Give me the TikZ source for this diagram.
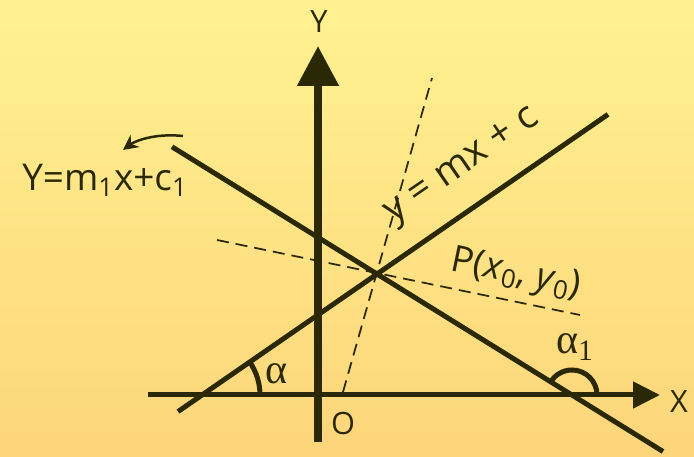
\documentclass[tikz,border=0pt]{standalone}
\usepackage{fontspec}
\setmainfont{Open Sans}
\newfontfamily\greekfont{Liberation Serif}
\usetikzlibrary{arrows.meta}
\definecolor{colorbgtop}{RGB}{255,242,145}
\definecolor{colorbgbot}{RGB}{253,213,122}
\definecolor{colorink}{RGB}{43,41,5}

\begin{document}
\begin{tikzpicture}[x=0.02cm,y=0.02cm]
% Background
\shade[top color=colorbgtop,bottom color=colorbgbot] (0,0) rectangle (694,457);
\useasboundingbox (0,0) rectangle (694,457);

% Points
\coordinate (P) at (377,183);
\coordinate (Xs) at (148,62);
\coordinate (Xe) at (660,62);
\coordinate (Ys) at (318,15);
\coordinate (Ye) at (318,411);
\coordinate (Ls) at (178,45.4);
\coordinate (Le) at (608,342.6);
\coordinate (Ms) at (172,310.2);
\coordinate (Me) at (663,5.5);
\coordinate (Ds) at (343,65);
\coordinate (De) at (432,379);
\coordinate (Es) at (217,217);
\coordinate (Ee) at (580,142);

% Axes
\draw[colorink,line width=0.1cm,-{Triangle[length=0.54cm,width=0.52cm]}] (Xs) -- (Xe);
\draw[colorink,line width=0.16cm,-{Triangle[length=0.8cm,width=0.8cm]}] (Ys) -- (Ye);

% Lines through P
\draw[colorink,line width=0.1cm] (Ls) -- (Le);
\draw[colorink,line width=0.1cm] (Ms) -- (Me);
\draw[colorink,line width=0.035cm,dash pattern=on 0.24cm off 0.14cm] (Ds) -- (De);
\draw[colorink,line width=0.035cm,dash pattern=on 0.24cm off 0.14cm] (Es) -- (Ee);

% Angles
\draw[colorink,line width=0.1cm] (260,62) arc[start angle=0,end angle=34.6,radius=58];
\draw[colorink,line width=0.1cm] (597,62) arc[start angle=0,end angle=148.2,radius=25];
\node[colorink,inner sep=0,font=\greekfont\fontsize{24}{28}\selectfont] (alpha) at (277,83) {α};
\node[colorink,inner sep=0,font=\greekfont\fontsize{24}{28}\selectfont] (alpha1) at (575,110) {α\textsubscript{1}};

% Axis labels
\node[colorink,inner sep=0,font=\fontsize{17.5}{21}\selectfont] (Ylab) at (319,435) {Y};
\node[colorink,inner sep=0,font=\fontsize{17.5}{21}\selectfont] (Xlab) at (679,55) {X};
\node[colorink,inner sep=0,font=\fontsize{17.5}{21}\selectfont] (Olab) at (343,33) {O};

% Equations
\node[colorink,inner sep=0,font=\fontsize{21}{25}\selectfont] (eqM) at (105,277) {Y=m\textsubscript{1}x+c\textsubscript{1}};
\node[colorink,inner sep=0,font=\fontsize{22}{26}\selectfont,rotate=34.6] (eqL) at (463,290) {y = mx + c};
\node[colorink,inner sep=0,font=\fontsize{21}{25}\selectfont,rotate=-11.7] (Plab) at (516,182) {P(\textit{x}\textsubscript{0}, \textit{y}\textsubscript{0})};

% Rotation arrow
\coordinate (Rs) at (183,321);
\coordinate (Re) at (123,307);
\draw[colorink,line width=0.05cm,-{Stealth[length=0.3cm,width=0.3cm]}] (Rs) .. controls (155,324) and (135,316) .. (Re);

\end{tikzpicture}
\end{document}
